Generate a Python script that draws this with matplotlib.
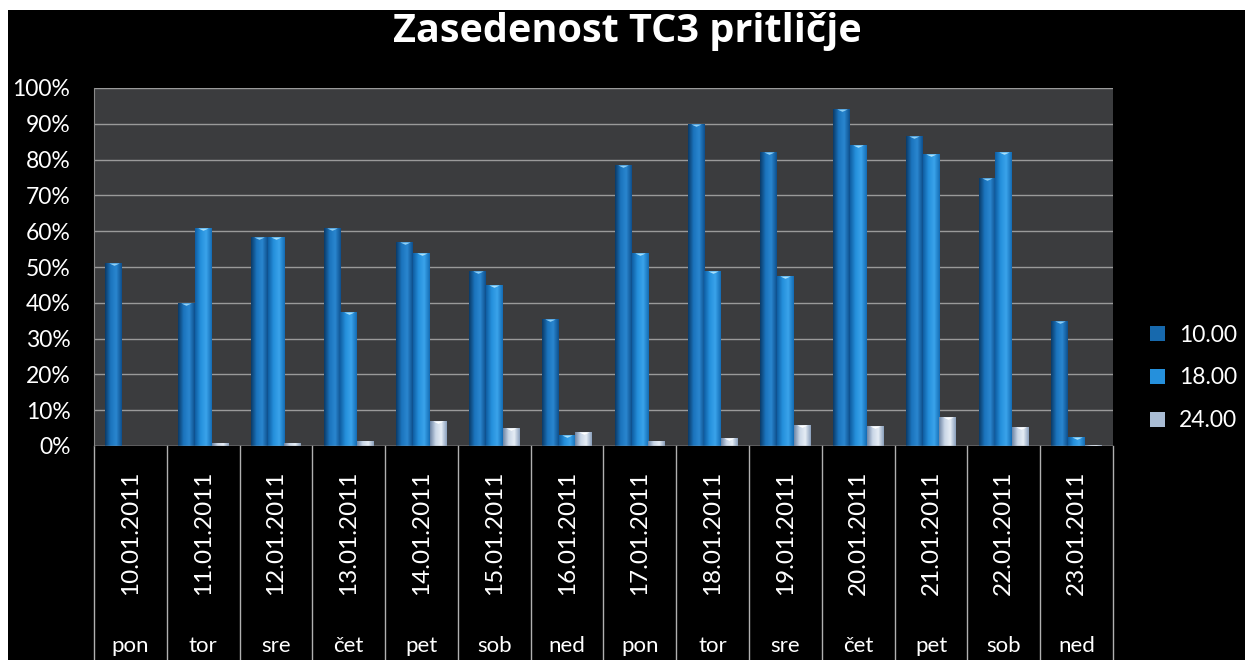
import numpy as np
import matplotlib
matplotlib.use('Agg')
import matplotlib.pyplot as plt
from matplotlib.colors import LinearSegmentedColormap
from matplotlib.patches import Patch, Rectangle
import matplotlib.transforms as mtransforms

plt.rcParams['font.family'] = ['Lato', 'DejaVu Sans']

dates = ['10.01.2011', '11.01.2011', '12.01.2011', '13.01.2011', '14.01.2011',
         '15.01.2011', '16.01.2011', '17.01.2011', '18.01.2011', '19.01.2011',
         '20.01.2011', '21.01.2011', '22.01.2011', '23.01.2011']
days = ['pon', 'tor', 'sre', 'čet', 'pet', 'sob', 'ned',
        'pon', 'tor', 'sre', 'čet', 'pet', 'sob', 'ned']

series_names = ['10.00', '18.00', '24.00']
v10 = [51, 40, 58.5, 61, 57, 49, 35.5, 78.5, 90, 82, 94, 86.5, 75, 35]
v18 = [0, 61, 58.5, 37.5, 54, 45, 3, 54, 49, 47.5, 84, 81.5, 82, 2.5]
v24 = [0, 0.8, 0.8, 1.3, 7, 5, 4, 1.3, 2.2, 6, 5.7, 8, 5.4, 0.3]

cmaps = [
    LinearSegmentedColormap.from_list('s10', ['#0a3a68', '#1b74bd', '#2a86cf', '#0d4f8c']),
    LinearSegmentedColormap.from_list('s18', ['#0f5ea3', '#2590dc', '#3aa3ea', '#146cb4']),
    LinearSegmentedColormap.from_list('s24', ['#6e86a6', '#c9d6e6', '#e6edf5', '#8aa0bd']),
]
legend_colors = ['#1769ad', '#2590dc', '#a9bcd4']
cap_colors = ['#8fd0f6', '#a8e0fb', '#ffffff']

fig = plt.figure(figsize=(12.45, 6.6), dpi=100, facecolor='white')
fig.patches.append(Rectangle((8 / 1245, 0), 1, 1 - 10 / 660, transform=fig.transFigure,
                             facecolor='black', edgecolor='none', zorder=-10))
ax = fig.add_axes([94 / 1245, 1 - 446 / 660, (1113 - 94) / 1245, (446 - 88) / 660])
ax.set_facecolor('#3b3c3e')

x = np.arange(len(dates))
w = 0.23
grad = np.linspace(0, 1, 64).reshape(1, -1)
cap_marker = [(-1, 0), (1, 0), (0, -0.45), (-1, 0)]
for k, vals in enumerate([v10, v18, v24]):
    bars = ax.bar(x + (k - 1) * w, vals, width=w, color=legend_colors[k], linewidth=0, zorder=3)
    for b in bars:
        if b.get_height() <= 0:
            continue
        im = ax.imshow(grad, cmap=cmaps[k], aspect='auto', zorder=4,
                       extent=(b.get_x(), b.get_x() + b.get_width(), 0, b.get_height()))
        im.set_clip_path(b)
        if b.get_height() > 1.5:
            ax.scatter(b.get_x() + b.get_width() / 2, b.get_height(), marker=cap_marker,
                       s=55, color=cap_colors[k], linewidths=0, zorder=5)

ax.set_xlim(-0.5, len(dates) - 0.5)
ax.set_ylim(0, 100)
ax.set_yticks(np.arange(0, 101, 10))
ax.set_yticklabels([f'{t}%' for t in range(0, 101, 10)], color='white', fontsize=16.5)
ax.tick_params(axis='y', length=0, pad=17)
ax.set_xticks([])
ax.grid(axis='y', color='#9a9a9a', linewidth=1, zorder=1)
for s in ax.spines.values():
    s.set_visible(False)
ax.spines['left'].set_visible(True)
ax.spines['left'].set_color('#8a8a8a')
ax.axhline(0, color='#9a9a9a', linewidth=1, zorder=6)

# category table under the axis
trans = mtransforms.blended_transform_factory(ax.transData, ax.transAxes)
for b in np.arange(-0.5, len(dates), 1):
    ax.plot([b, b], [0, -0.62], color='#b0b0b0', linewidth=1, transform=trans, clip_on=False)
for i in range(len(dates)):
    ax.text(x[i], -0.243, dates[i], rotation=90, ha='center', va='center',
            color='white', fontsize=17.5, transform=trans, clip_on=False)
    ax.text(x[i], -0.575, days[i], ha='center', va='baseline',
            color='white', fontsize=16, transform=trans, clip_on=False)

fig.text(627 / 1245, 1 - 42 / 660, 'Zasedenost TC3 pritličje', ha='center', va='baseline',
         color='white', fontsize=28.5, fontweight='bold', family=['Open Sans', 'DejaVu Sans'])

handles = [Patch(facecolor=c, edgecolor='none') for c in legend_colors]
fig.legend(handles, series_names, loc='center left', bbox_to_anchor=(1150 / 1245, 1 - 378 / 660),
           frameon=False, labelcolor='white', fontsize=16.5, handlelength=0.65, handleheight=0.65,
           handletextpad=0.6, labelspacing=0.95, borderaxespad=0, borderpad=0)

fig.savefig('out.png', dpi=100, facecolor='white')
